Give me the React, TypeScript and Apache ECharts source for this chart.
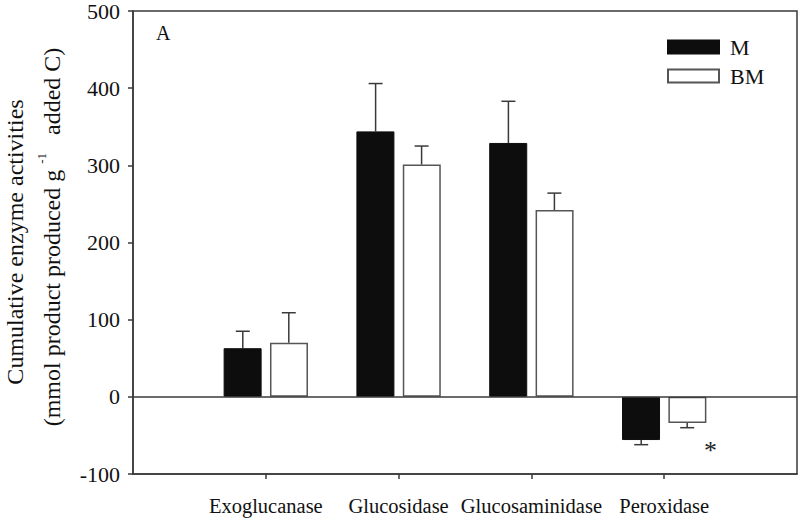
import React, { useEffect, useRef } from "react";
import * as echarts from "echarts";

const categories = ["", "Exoglucanase", "Glucosidase", "Glucosaminidase", "Peroxidase", ""];
const mValues = [null, 63, 344, 329, -56, null];
const bmValues = [null, 70, 301, 242, -34, null];
const mErrors = [null, 85, 406, 383, -62, null];
const bmErrors = [null, 109, 325, 264, -40, null];
const yTicks = { min: -100, max: 500, interval: 100 };

const FONT = "'Liberation Serif', 'Times New Roman', serif";
const LINE = "#3a3a3a";

export default function App() {
  const ref = useRef<HTMLDivElement>(null);
  useEffect(() => {
    if (!ref.current) return;
    const chart = echarts.init(ref.current, undefined, { renderer: "svg" });
    const errData: any[] = [];
    mErrors.forEach((e, i) => {
      if (e !== null) errData.push([i, mValues[i], e, -1]);
    });
    bmErrors.forEach((e, i) => {
      if (e !== null) errData.push([i, bmValues[i], e, 1]);
    });
    chart.setOption({
      animation: false,
      grid: { left: 133, right: 1, top: 11, bottom: 46, show: true, borderColor: LINE, borderWidth: 1.5 },
      legend: {
        orient: "vertical",
        left: 667,
        top: 36,
        padding: 0,
        itemWidth: 51,
        itemHeight: 13,
        itemGap: 7,
        icon: "rect",
        textStyle: { fontFamily: FONT, fontSize: 22, color: "#111", padding: [0, 0, 0, 6] },
        data: ["M", "BM"],
      },
      xAxis: {
        type: "category",
        data: categories,
        boundaryGap: false,
        axisLine: { onZero: false, lineStyle: { color: LINE, width: 1.5 } },
        axisTick: { show: true, length: 5, lineStyle: { color: LINE, width: 1.5 }, interval: (i: number) => i > 0 && i < 5 },
        axisLabel: { fontFamily: FONT, fontSize: 20.5, color: "#111", margin: 21, interval: 0 },
        splitLine: { show: false },
      },
      yAxis: {
        type: "value",
        min: yTicks.min,
        max: yTicks.max,
        interval: yTicks.interval,
        axisLine: { show: true, lineStyle: { color: LINE, width: 1.5 } },
        axisTick: { show: true, length: 5, lineStyle: { color: LINE, width: 1.5 } },
        axisLabel: { fontFamily: FONT, fontSize: 22, color: "#111", margin: 13 },
        splitLine: { show: false },
      },
      graphic: [
        {
          type: "text",
          x: 15,
          y: 242,
          rotation: Math.PI / 2,
          style: {
            text: "Cumulative enzyme activities",
            font: `24px ${FONT}`,
            fill: "#111",
            align: "center",
            verticalAlign: "middle",
          },
        },
        {
          type: "text",
          x: 52,
          y: 237,
          rotation: Math.PI / 2,
          style: {
            text: "{a|(mmol product produced g }{s|-1}{a|   added C)}",
            rich: {
              a: { font: `24px ${FONT}`, fill: "#111" },
              s: { font: `13px ${FONT}`, fill: "#111", verticalAlign: "top", padding: [0, 0, 22, 0] },
            },
            align: "center",
            verticalAlign: "middle",
          },
        },
        {
          type: "text",
          left: 156,
          top: 23,
          style: { text: "A", font: `20px ${FONT}`, fill: "#111" },
        },
      ],
      series: [
        {
          name: "M",
          type: "bar",
          data: mValues,
          barWidth: 38,
          barGap: "22%",
          itemStyle: { color: "#0d0d0d", borderColor: "#0d0d0d", borderWidth: 1 },
          markLine: {
            silent: true,
            symbol: "none",
            label: { show: false },
            lineStyle: { color: LINE, width: 1.5, type: "solid" },
            data: [{ yAxis: 0 }],
          },
        },
        {
          name: "BM",
          type: "bar",
          data: bmValues,
          barWidth: 38,
          barGap: "22%",
          itemStyle: { color: "#ffffff", borderColor: "#555", borderWidth: 1.5 },
          markPoint: {
            symbol: "circle",
            symbolSize: 0,
            data: [{ coord: [4, -70] }],
            label: {
              show: true,
              formatter: "*",
              offset: [23, 0],
              fontFamily: FONT,
              fontSize: 26,
              color: "#222",
            },
          },
        },
        {
          type: "custom",
          data: errData,
          z: 1,
          renderItem: (params: any, api: any) => {
            const i = api.value(0);
            const v = api.value(1);
            const e = api.value(2);
            const side = api.value(3);
            const p0 = api.coord([i, v]);
            const p1 = api.coord([i, e]);
            const x = p0[0] + side * 23;
            const style = { stroke: LINE, lineWidth: 1.5 };
            return {
              type: "group",
              children: [
                { type: "line", shape: { x1: x, y1: p0[1], x2: x, y2: p1[1] }, style },
                { type: "line", shape: { x1: x - 7, y1: p1[1], x2: x + 7, y2: p1[1] }, style },
              ],
            };
          },
        },
      ],
    });
    return () => chart.dispose();
  }, []);
  return (
    <div style={{ position: "absolute", left: 0, top: 0 }}>
      <div ref={ref} style={{ width: 800, height: 520 }} />
    </div>
  );
}
